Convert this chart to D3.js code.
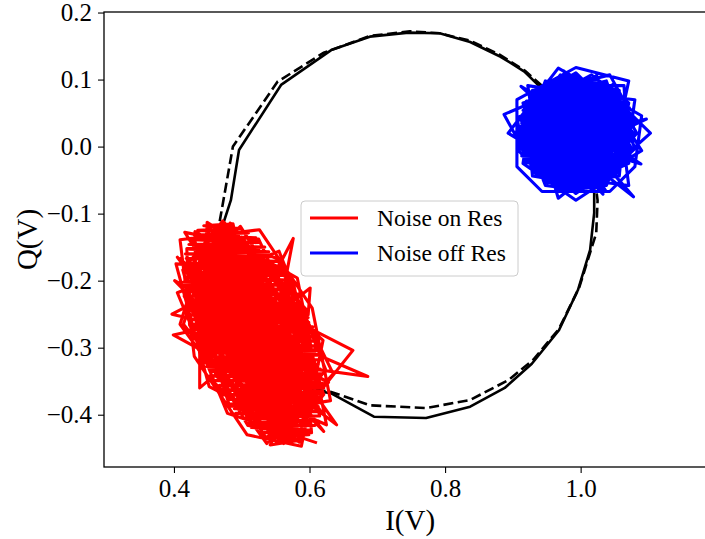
<!DOCTYPE html>
<html><head><meta charset="utf-8">
<script src="https://cdn.jsdelivr.net/npm/d3@7"></script>
<style>html,body{margin:0;padding:0;background:#fff;}svg{display:block;}</style>
</head><body>
<svg id="chart" width="705" height="539"></svg>
<script>
// ---- data ----
const xTicks = [0.4, 0.6, 0.8, 1.0];
const yTicks = [-0.4, -0.3, -0.2, -0.1, 0.0, 0.1, 0.2];
const legendLabels = ["Noise on Res", "Noise off Res"];

const solidI = [0.975,0.937,0.917,0.882,0.837,0.792,0.746,0.689,0.632,0.558,0.496,0.484,0.473,0.466,0.470,0.490,0.530,0.580,0.632,0.695,0.772,0.837,0.888,0.928,0.968,0.996,1.014,1.020,1.020];
const solidQ = [0.060,0.092,0.112,0.134,0.156,0.169,0.170,0.164,0.144,0.092,-0.005,-0.080,-0.114,-0.170,-0.230,-0.290,-0.335,-0.360,-0.368,-0.403,-0.405,-0.388,-0.360,-0.324,-0.274,-0.214,-0.154,-0.099,-0.040];
const dashI = [0.975,0.918,0.881,0.837,0.792,0.748,0.689,0.621,0.553,0.487,0.473,0.466,0.462,0.470,0.490,0.540,0.590,0.632,0.689,0.772,0.837,0.894,0.930,0.968,0.998,1.023,1.025,1.020];
const dashQ = [0.062,0.113,0.137,0.158,0.169,0.172,0.165,0.140,0.097,0.000,-0.080,-0.120,-0.180,-0.240,-0.300,-0.340,-0.360,-0.366,-0.386,-0.390,-0.378,-0.348,-0.318,-0.272,-0.210,-0.129,-0.080,-0.040];

// noise trace, resonant tone (red)
const redI = [0.549,0.589,0.536,0.599,0.527,0.602,0.514,0.608,0.511,0.613,
0.501,0.610,0.491,0.615,0.489,0.613,0.482,0.619,0.480,0.617,
0.471,0.617,0.468,0.621,0.467,0.619,0.459,0.616,0.453,0.619,
0.454,0.616,0.448,0.613,0.444,0.615,0.445,0.616,0.440,0.611,
0.434,0.611,0.438,0.610,0.431,0.604,0.428,0.604,0.429,0.605,
0.426,0.599,0.422,0.598,0.425,0.596,0.418,0.591,0.423,0.589,
0.418,0.583,0.416,0.584,0.418,0.578,0.416,0.571,0.414,0.571,
0.418,0.569,0.416,0.560,0.415,0.557,0.420,0.553,0.418,0.544,
0.417,0.540,0.423,0.534,0.422,0.525,0.427,0.521,0.430,0.510,
0.435,0.500,0.444,0.487,
0.519,0.501,0.534,0.512,0.573,0.458,0.561,0.491,0.504,0.548,0.438,0.558,0.454,0.521,0.595,0.493,0.481,0.494,0.565,0.553,
0.397,0.443,0.526,0.509,0.539,0.470,0.540,0.559,0.470,0.570,0.466,0.439,0.509,0.589,0.536,0.509,0.462,
0.416,0.525,0.442,0.566,0.487,0.513,0.604,0.495,0.524,0.534,0.460,0.536,0.555,
0.576,0.484,0.519,0.409,0.565,0.500,0.523,0.497,0.561,0.485,0.529,0.464,0.536,
0.483,0.557,0.540,0.490,0.591,0.463,0.534,0.531,0.500,0.574,0.439,0.522,0.473,0.589,0.534,0.480,
0.438,0.438,0.553,0.490,0.553,0.476,0.617,0.512,0.510,0.522,0.479,0.558,0.565,0.460,0.497,0.512,
0.601,0.598,0.512,0.564,0.431,0.571,0.534,0.451,0.529,0.546,0.497,0.498,0.539,0.521,0.477,0.585,
0.686,0.512,0.435,0.538,0.493,0.539,0.572,0.457,0.464,0.510,0.541,0.528,
0.399,0.497,0.552,0.495,0.533,0.477,0.609,0.516,0.416,0.558,0.527,0.466,0.498,0.550,
0.542,0.586,0.546,0.479,0.576,0.464,0.528,0.502,0.515,0.526,0.428,0.552,0.504,0.589,
0.664,0.525,0.482,0.508,0.504,0.584,0.484,0.555,0.481,0.481,0.548,0.552,0.501,0.460,0.550,0.581,0.428,0.521,0.503,0.535,0.516,
0.640,0.500,0.574,0.463,0.503,0.602,0.485,0.522,0.539,0.532,0.437,0.532,0.499,0.430,0.556,0.570,
0.567,0.570,0.520,0.473,0.500,0.507,0.514,0.495,0.544,0.514,0.540,0.542,0.512,0.472,0.467,0.552,
0.401,0.560,0.465,0.541,0.479,0.585,0.522,0.551,0.515,0.557,0.451,0.523,0.459,0.563,0.517,0.479,0.479,0.517,0.540,0.484,0.570,0.543,0.520,0.522,0.510,0.531,0.595,0.452,0.521,0.494,0.507,
0.628,0.551,0.543,0.552,0.472,0.451,0.545,0.553,0.497,0.504,0.509,0.460,0.555,0.572,0.507,0.495,0.464,0.527,0.555,0.497,0.579,
0.405,0.471,0.531,0.425,0.592,0.525,0.518,0.523,0.484,0.517,0.581,0.423,0.517,0.540,0.486,0.510,0.517,0.542,0.569,0.439,0.564,
0.436,0.495,0.503,0.621,0.492,0.536,0.508,0.496,0.560,0.536,0.457,0.581,0.510,0.448,0.562,0.520,0.475,0.527,0.482,0.528,0.535,
0.578,0.611,0.523,0.429,0.438,0.532,0.610,0.576,0.477,0.435,
0.482,0.586,0.609,0.545,0.431,0.433,0.510,0.615,0.580,0.498,
0.424,0.470,0.557,0.635,0.552,0.456,0.415,0.489,0.585,0.600,
0.564,0.502,0.419,0.423,0.509,0.603,0.592,0.525,0.448,0.454,
0.536,0.595,0.596,0.472,0.413,0.458,0.562,0.621,0.570,0.463,
0.425,0.464,0.571,0.599,0.548,0.449,0.442,0.486,0.594,0.601,
0.524,0.439,0.446,0.534,0.605,0.588,0.500,0.434,0.414,0.511,
0.564,0.590,0.572,0.523,0.470,0.444,0.462,0.511,0.577,0.589,
0.558,0.504,0.457,0.445,0.476,0.530,0.586,0.583,0.541,0.486,
0.448,0.451,0.493,0.548,0.631,0.604,0.526,0.409,0.430,0.508,
0.588,0.620,0.506,0.403,0.452,0.553,0.576,0.552,0.476,0.456,
0.496,0.568,0.573,0.522,0.466,0.461,0.512,0.558,0.578,0.538,
0.481,0.455,0.482,0.544,0.579,0.564,0.490,0.458,0.470,0.528,
0.625,0.582,0.453,0.409,0.537,0.624,0.555,0.405,0.479,0.611];

const redQ = [-0.440,-0.437,-0.433,-0.430,-0.426,-0.423,-0.419,-0.416,-0.412,-0.409,
-0.405,-0.402,-0.398,-0.395,-0.391,-0.388,-0.384,-0.381,-0.377,-0.374,
-0.370,-0.367,-0.363,-0.360,-0.356,-0.353,-0.349,-0.346,-0.342,-0.339,
-0.335,-0.332,-0.328,-0.325,-0.321,-0.318,-0.314,-0.311,-0.307,-0.304,
-0.300,-0.297,-0.293,-0.290,-0.286,-0.283,-0.279,-0.276,-0.272,-0.269,
-0.265,-0.262,-0.258,-0.255,-0.251,-0.248,-0.244,-0.241,-0.237,-0.234,
-0.230,-0.227,-0.223,-0.220,-0.216,-0.213,-0.209,-0.206,-0.202,-0.199,
-0.195,-0.192,-0.188,-0.185,-0.181,-0.178,-0.174,-0.171,-0.167,-0.164,
-0.160,-0.157,-0.153,-0.150,-0.146,-0.143,-0.139,-0.136,-0.132,-0.129,
-0.125,-0.122,-0.118,-0.115,
-0.262,-0.318,-0.231,-0.295,-0.347,-0.204,-0.276,-0.339,-0.251,-0.301,-0.188,-0.365,-0.283,-0.244,-0.327,-0.269,-0.158,-0.309,-0.391,-0.287,
-0.250,-0.226,-0.354,-0.271,-0.213,-0.336,-0.297,-0.419,-0.256,-0.312,-0.179,-0.285,-0.241,-0.373,-0.266,-0.322,-0.137,
-0.128,-0.302,-0.233,-0.349,-0.279,-0.198,-0.331,-0.260,-0.405,-0.291,-0.219,-0.343,-0.249,
-0.137,-0.315,-0.274,-0.167,-0.361,-0.288,-0.237,-0.326,-0.282,-0.208,-0.382,-0.264,-0.305,
-0.114,-0.229,-0.337,-0.272,-0.436,-0.293,-0.247,-0.353,-0.191,-0.310,-0.258,-0.286,-0.221,-0.368,-0.277,-0.324,
-0.360,-0.149,-0.299,-0.240,-0.345,-0.268,-0.395,-0.253,-0.316,-0.210,-0.290,-0.333,-0.263,-0.184,-0.357,-0.281,
-0.211,-0.251,-0.234,-0.320,-0.270,-0.412,-0.296,-0.217,-0.340,-0.255,-0.307,-0.173,-0.284,-0.375,-0.245,-0.329,
-0.343,-0.267,-0.201,-0.313,-0.289,-0.227,-0.351,-0.273,-0.129,-0.303,-0.386,-0.252,
-0.281,-0.335,-0.278,-0.215,-0.321,-0.259,-0.364,-0.292,-0.196,-0.344,-0.265,-0.308,-0.238,-0.428,
-0.445,-0.438,-0.280,-0.223,-0.330,-0.261,-0.298,-0.163,-0.358,-0.275,-0.243,-0.317,-0.286,-0.399,
-0.304,-0.232,-0.341,-0.269,-0.206,-0.311,-0.250,-0.370,-0.287,-0.186,-0.325,-0.254,-0.306,-0.228,-0.349,-0.279,-0.142,-0.294,-0.383,-0.262,-0.319,
-0.415,-0.214,-0.338,-0.271,-0.247,-0.416,-0.300,-0.193,-0.356,-0.283,-0.236,-0.328,-0.266,-0.176,-0.314,-0.290,
-0.187,-0.378,-0.242,-0.304,-0.257,-0.346,-0.218,-0.276,-0.332,-0.155,-0.292,-0.403,-0.261,-0.225,-0.323,-0.284,
-0.200,-0.363,-0.248,-0.302,-0.199,-0.342,-0.273,-0.235,-0.310,-0.389,-0.265,-0.282,-0.211,-0.334,-0.256,-0.297,-0.168,-0.352,-0.277,-0.239,-0.318,-0.433,-0.289,-0.222,-0.366,-0.268,-0.305,-0.246,-0.336,-0.185,-0.280,
-0.352,-0.312,-0.258,-0.396,-0.230,-0.293,-0.347,-0.270,-0.205,-0.327,-0.263,-0.146,-0.299,-0.371,-0.244,-0.315,-0.286,-0.216,-0.340,-0.274,-0.408,
-0.165,-0.252,-0.308,-0.190,-0.355,-0.279,-0.233,-0.321,-0.267,-0.380,-0.295,-0.209,-0.338,-0.260,-0.174,-0.311,-0.285,-0.241,-0.359,-0.272,-0.326,
-0.322,-0.224,-0.301,-0.425,-0.255,-0.288,-0.195,-0.344,-0.264,-0.316,-0.237,-0.376,-0.278,-0.160,-0.306,-0.250,-0.334,-0.291,-0.212,-0.361,-0.269,
-0.424,-0.288,-0.166,-0.164,-0.310,-0.403,-0.360,-0.203,-0.127,-0.234,
-0.387,-0.397,-0.325,-0.189,-0.127,-0.267,-0.402,-0.402,-0.251,-0.119,
-0.194,-0.336,-0.427,-0.339,-0.167,-0.130,-0.223,-0.365,-0.441,-0.351,
-0.218,-0.151,-0.152,-0.266,-0.416,-0.427,-0.286,-0.138,-0.157,-0.303,
-0.435,-0.377,-0.244,-0.111,-0.184,-0.351,-0.443,-0.370,-0.210,-0.146,
-0.229,-0.344,-0.408,-0.320,-0.178,-0.113,-0.268,-0.376,-0.412,-0.287,
-0.152,-0.177,-0.306,-0.419,-0.390,-0.248,-0.135,-0.203,-0.265,-0.388,
-0.391,-0.342,-0.254,-0.180,-0.163,-0.212,-0.300,-0.374,-0.382,-0.314,
-0.225,-0.166,-0.172,-0.240,-0.329,-0.388,-0.365,-0.284,-0.200,-0.161,
-0.189,-0.270,-0.354,-0.393,-0.379,-0.241,-0.124,-0.139,-0.313,-0.430,
-0.447,-0.289,-0.182,-0.175,-0.358,-0.410,-0.352,-0.233,-0.179,-0.245,
-0.343,-0.367,-0.283,-0.194,-0.187,-0.271,-0.360,-0.375,-0.309,-0.211,
-0.144,-0.221,-0.321,-0.377,-0.333,-0.257,-0.177,-0.202,-0.297,-0.372,
-0.415,-0.196,-0.122,-0.265,-0.443,-0.333,-0.156,-0.218,-0.398,-0.442];

// noise trace, off-resonance tone (blue)
const blueI = [0.975,1.020,0.959,1.037,0.949,1.043,0.937,1.048,0.928,1.058,
0.928,1.067,0.921,1.063,0.913,1.070,0.918,1.075,0.912,1.071,
0.908,1.075,0.913,1.079,0.910,1.072,0.908,1.075,0.913,1.076,
0.912,1.069,0.916,1.070,0.922,1.067,0.920,1.060,0.927,1.059,
0.935,1.050,0.938,1.043,0.949,1.033,0.961,1.017,
1.024,0.954,1.036,0.941,1.050,0.937,1.051,0.929,1.061,0.920,
1.062,0.923,1.072,0.915,1.067,0.915,1.074,0.909,1.073,0.915,
1.078,0.910,1.073,0.906,1.076,0.912,1.078,0.910,1.070,0.914,
1.073,0.915,1.067,0.919,1.068,0.925,1.060,0.924,1.056,0.934,
1.051,0.943,1.041,0.950,1.028,0.965,1.011,
0.987,1.012,0.969,1.031,0.995,0.958,1.004,0.981,1.023,0.976,
1.047,0.992,0.963,1.008,0.984,0.939,1.016,0.998,0.972,1.036,
0.989,1.001,0.951,1.027,0.979,1.062,0.993,0.967,1.011,0.985,
0.944,1.019,0.996,0.974,1.041,0.982,1.006,0.961,0.999,1.028,
0.977,0.915,1.014,0.990,0.956,1.033,0.988,1.003,0.970,1.052,
0.983,0.948,1.021,0.994,0.965,1.009,0.978,1.038,0.991,0.959,
1.017,0.986,1.074,0.973,0.997,0.942,1.025,0.980,1.005,0.962,
1.044,0.988,0.953,1.013,0.976,0.995,1.030,0.968,0.927,1.002,
0.984,1.020,0.957,0.993,1.057,0.975,1.010,0.946,0.999,1.035,
0.981,0.966,1.015,0.990,0.937,1.026,0.972,1.007,0.985,1.049,
0.960,0.994,1.018,0.979,0.952,1.039,0.987,1.001,0.969,1.083,
0.982,0.943,1.022,0.996,0.964,1.011,0.977,1.032,0.989,0.955,
1.006,0.971,1.045,0.992,0.934,1.016,0.983,0.998,0.961,1.028,
0.986,1.060,0.974,1.003,0.949,1.019,0.991,0.967,1.037,0.980,
0.906,1.012,0.995,0.958,1.024,0.978,1.008,0.945,0.988,1.043,
0.970,0.999,1.015,0.963,1.031,0.984,0.940,1.004,0.993,1.054,
0.976,0.957,1.020,0.987,0.968,1.097,0.982,1.009,0.950,0.997,
1.034,0.973,0.990,1.017,0.931,1.002,0.985,1.040,0.962,0.994,
1.026,0.979,0.954,1.013,0.988,1.066,0.971,0.998,0.944,1.022,
0.983,1.007,0.966,1.048,0.991,0.920,1.018,0.977,1.001,0.959,
1.036,0.986,0.969,1.010,0.995,0.938,1.029,0.980,1.058,0.974,
0.992,0.952,1.014,0.984,1.003,0.965,1.042,0.989,0.947,1.021,
0.978,1.000,0.960,1.033,0.987,1.071,0.972,0.996,0.935,1.011,
0.982,1.025,0.963,0.994,1.050,0.975,1.006,0.956,0.990,1.038,
0.968,1.016,0.985,0.942,1.023,0.997,0.973,1.089,0.981,1.004,
0.951,0.993,1.030,0.979,0.961,1.012,0.988,1.046,0.970,0.999,
0.926,1.019,0.984,1.002,0.958,1.035,0.976,0.995,1.063,0.967,
1.008,0.944,0.990,1.027,0.980,0.954,1.015,0.986,1.041,0.973,
0.998,0.912,1.021,0.983,1.005,0.962,1.032,0.977,0.992,1.055,
0.969,1.010,0.948,0.987,1.024,0.965,1.078,0.981,0.996,0.939,
1.078,1.014,0.915,0.940,1.015,1.059,1.057,0.977,0.908,0.972,
1.057,1.065,0.993,0.936,0.934,0.993,1.062,1.067,1.043,0.956,
0.906,0.951,1.031,1.103,1.033,0.929,0.916,0.959,1.038,1.080,
1.011,0.906,0.919,1.012,1.071,1.046,0.970,0.934,0.916,0.970,
1.046,1.090,1.052,0.993,0.919,0.929,0.993,1.052,1.075,0.993,
0.948,0.918,0.948,1.016,1.075,1.027,0.951,0.927,0.974,1.036,
1.068,1.064,0.974,0.927,0.936,0.993,1.050,1.071,1.016,0.945,
0.903,0.945,1.011,1.067,1.059,1.038,0.959,0.887,0.924,0.975,
1.033,1.080,1.058,0.993,0.933,0.911,0.956,1.014,1.041,1.083,
1.050,0.972,0.928,0.915,0.993,1.053,1.070,1.012,0.953,0.925,
0.933,1.027,1.065,1.041,0.993,0.924,0.921,0.971,1.058,1.062,
1.031,0.940,0.911,0.953,0.993,1.071,1.061,1.015,0.975,0.913,
0.928,1.009,1.070,1.080,0.993,0.922,0.935,0.963,1.023,1.051,
1.036,0.963,0.921,0.951,0.967,1.035,1.053,1.053,0.971,0.941,
0.941,0.993,1.045,1.045,1.009,0.951,0.933,0.958,1.006,1.036,
1.041,1.006,0.968,0.945,0.950,0.980,1.018,1.051,1.071,0.993,
0.906,0.906,0.943,1.043,1.080,1.090,0.967,0.893,0.993,1.073];

const blueQ = [-0.063,-0.060,-0.056,-0.053,-0.049,-0.046,-0.042,-0.039,-0.035,-0.032,
-0.028,-0.025,-0.021,-0.018,-0.014,-0.011,-0.007,-0.004,0.000,0.004,
0.007,0.011,0.014,0.018,0.021,0.025,0.028,0.032,0.035,0.039,
0.042,0.046,0.049,0.053,0.056,0.060,0.063,0.067,0.070,0.074,
0.077,0.081,0.084,0.088,0.091,0.095,0.098,0.102,
0.100,0.096,0.093,0.089,0.086,0.082,0.079,0.075,0.072,0.068,
0.065,0.061,0.058,0.054,0.051,0.047,0.044,0.040,0.037,0.033,
0.030,0.026,0.023,0.019,0.016,0.012,0.009,0.005,0.002,-0.002,
-0.005,-0.009,-0.012,-0.016,-0.019,-0.023,-0.026,-0.030,-0.033,-0.037,
-0.040,-0.044,-0.047,-0.051,-0.054,-0.058,-0.061,
0.031,0.004,0.047,0.016,-0.012,0.038,0.022,0.059,-0.003,0.027,
0.011,0.043,-0.021,0.019,0.066,0.008,0.035,-0.009,0.025,0.052,
0.014,-0.031,0.040,0.021,0.002,0.073,0.029,0.010,0.048,-0.016,
0.024,0.057,0.006,0.033,-0.040,0.018,0.045,0.012,0.084,0.001,
0.036,0.020,-0.006,0.054,0.028,0.015,-0.024,0.042,0.009,0.063,
0.023,-0.002,0.037,0.017,0.050,-0.049,0.030,0.013,0.069,0.005,
0.041,0.026,-0.014,0.034,0.098,0.019,-0.007,0.046,0.011,0.032,
-0.027,0.055,0.022,0.003,0.039,0.016,0.078,-0.010,0.027,0.049,
0.008,0.035,-0.035,0.021,0.061,0.013,0.044,-0.001,0.030,0.018,
0.071,-0.019,0.038,0.024,0.006,0.051,0.015,-0.058,0.033,0.026,
0.043,0.010,0.064,-0.005,0.029,0.020,0.088,0.002,0.036,-0.023,
0.047,0.017,0.025,-0.011,0.056,0.031,0.007,0.040,-0.043,0.022,
0.012,0.067,0.028,-0.004,0.045,0.019,0.034,-0.029,0.053,0.009,
0.076,0.023,-0.015,0.037,0.014,0.060,0.001,0.042,-0.066,0.027,
0.018,0.050,-0.008,0.032,0.107,0.011,0.039,-0.020,0.025,0.058,
0.005,0.044,0.016,-0.037,0.030,0.070,0.021,-0.003,0.048,0.013,
-0.052,0.035,0.024,0.062,0.008,0.041,-0.013,0.029,0.082,0.017,
0.036,-0.025,0.053,0.010,0.027,0.046,-0.001,0.065,0.020,0.003,
0.039,-0.045,0.031,0.015,0.074,0.022,-0.009,0.043,0.012,0.057,
-0.018,0.034,0.026,0.093,0.006,0.040,-0.030,0.019,0.049,0.014,
0.068,-0.006,0.033,0.023,-0.061,0.045,0.011,0.055,0.028,-0.017,
0.037,0.004,0.080,0.021,-0.033,0.047,0.016,0.030,0.062,-0.002,
0.025,0.052,0.009,-0.071,0.038,0.018,0.072,0.000,0.044,0.013,
-0.022,0.059,0.027,0.007,0.035,0.113,0.019,-0.010,0.042,0.024,
0.003,0.050,-0.039,0.031,0.016,0.066,0.010,-0.026,0.046,0.022,
0.085,0.005,0.036,-0.054,0.028,0.017,0.056,-0.008,0.039,0.012,
0.032,0.069,-0.019,0.024,0.008,0.048,-0.047,0.035,0.020,0.077,
0.014,-0.004,0.041,0.026,0.061,-0.034,0.029,0.011,0.053,0.002,
0.037,0.090,-0.013,0.022,0.045,0.006,-0.063,0.033,0.018,0.058,
0.025,-0.028,0.043,0.009,0.070,0.015,-0.075,0.038,0.021,0.047,
0.020,0.097,0.065,-0.033,-0.062,0.002,0.084,0.078,0.020,-0.057,
-0.044,0.039,0.110,0.077,-0.014,-0.070,-0.020,0.063,0.107,0.085,
-0.003,-0.054,-0.045,0.020,0.089,0.084,0.041,-0.039,-0.058,0.043,
0.086,0.043,-0.023,-0.052,-0.025,0.073,0.107,0.054,-0.001,-0.067,
-0.033,-0.006,0.054,0.100,0.063,-0.044,-0.055,-0.014,0.042,0.088,
0.098,0.020,-0.058,-0.067,-0.002,0.079,0.094,0.002,-0.052,-0.054,
0.020,0.091,0.092,0.038,-0.037,-0.065,-0.037,0.065,0.107,0.068,
0.020,-0.028,-0.046,-0.023,0.038,0.098,0.079,0.048,-0.020,-0.046,
-0.049,-0.003,0.058,0.105,0.080,-0.002,-0.045,-0.057,-0.028,0.020,
0.077,0.097,0.058,-0.025,-0.080,-0.040,0.041,0.092,0.089,0.020,
-0.040,-0.039,0.001,0.068,0.095,0.060,0.001,-0.062,-0.018,0.060,
0.085,0.073,0.042,-0.049,-0.048,-0.058,0.020,0.102,0.086,0.020,
-0.018,-0.038,-0.001,0.070,0.080,0.091,0.004,-0.032,-0.032,0.036,
0.094,0.072,0.039,-0.022,-0.077,-0.022,0.020,0.080,0.102,0.050,
-0.010,-0.060,-0.010,0.050,0.078,0.062,0.020,-0.015,-0.028,-0.005,
0.033,0.068,0.063,0.033,-0.005,-0.028,-0.023,0.004,0.098,0.118,
0.070,-0.030,-0.067,-0.067,-0.030,0.046,0.117,0.020,-0.040,0.020];

// ---- drawing ----
const svg = d3.select("#chart");
const FONT = "'Liberation Serif','Times New Roman',serif";
const plot = {left: 104, right: 716.2, top: 12, bottom: 467};

const x = d3.scaleLinear().domain([0.2968, 1.2]).range([plot.left, plot.right]);
const y = d3.scaleLinear().domain([-0.478, 0.2008]).range([plot.bottom, plot.top]);

const line = d3.line().x(d => x(d[0])).y(d => y(d[1]));

svg.append("path").datum(d3.zip(solidI, solidQ)).attr("d", line)
  .attr("fill", "none").attr("stroke", "#000").attr("stroke-width", 2.6).attr("stroke-linejoin", "round");
svg.append("path").datum(d3.zip(dashI, dashQ)).attr("d", line)
  .attr("fill", "none").attr("stroke", "#000").attr("stroke-width", 2.6).attr("stroke-dasharray", "10,4.5");

svg.append("path").datum(d3.zip(redI, redQ)).attr("d", line)
  .attr("fill", "none").attr("stroke", "#ff0000").attr("stroke-width", 3.1).attr("stroke-linejoin", "round");
svg.append("path").datum(d3.zip(blueI, blueQ)).attr("d", line)
  .attr("fill", "none").attr("stroke", "#0000ff").attr("stroke-width", 3.1).attr("stroke-linejoin", "round");

// frame
svg.append("rect").attr("x", plot.left).attr("y", plot.top)
  .attr("width", plot.right - plot.left).attr("height", plot.bottom - plot.top)
  .attr("fill", "none").attr("stroke", "#000").attr("stroke-width", 1.3);

const fmt = d3.format(".1f");
const gx = svg.append("g").attr("transform", `translate(0,${plot.bottom})`)
  .call(d3.axisBottom(x).tickValues(xTicks).tickSize(6).tickPadding(5).tickFormat(fmt));
const gy = svg.append("g").attr("transform", `translate(${plot.left},0)`)
  .call(d3.axisLeft(y).tickValues(yTicks).tickSize(6).tickPadding(6).tickFormat(fmt));
[gx, gy].forEach(g => {
  g.select(".domain").remove();
  g.selectAll(".tick line").attr("stroke", "#000").attr("stroke-width", 1.1);
  g.selectAll(".tick text").attr("fill", "#000").style("font-family", FONT).style("font-size", "25px");
});
gx.selectAll(".tick text").attr("dy", "0.75em");

svg.append("text").attr("x", (plot.left + plot.right) / 2).attr("y", 530)
  .attr("text-anchor", "middle").style("font-family", FONT).style("font-size", "29px").text("I(V)");
svg.append("text").attr("transform", `translate(37,${(plot.top + plot.bottom) / 2}) rotate(-90)`)
  .attr("text-anchor", "middle").style("font-family", FONT).style("font-size", "29px").text("Q(V)");

// legend
const lg = svg.append("g");
lg.append("rect").attr("x", 301).attr("y", 201).attr("width", 217).attr("height", 75)
  .attr("rx", 4).attr("fill", "#fff").attr("fill-opacity", 0.8).attr("stroke", "#cccccc").attr("stroke-width", 1);
const colors = ["#ff0000", "#0000ff"];
legendLabels.forEach((lab, i) => {
  const yy = 218 + i * 35;
  lg.append("line").attr("x1", 310).attr("x2", 358).attr("y1", yy).attr("y2", yy)
    .attr("stroke", colors[i]).attr("stroke-width", 3);
  lg.append("text").attr("x", 377).attr("y", yy + 8).style("font-family", FONT).style("font-size", "23.5px")
    .attr("fill", "#000").text(lab);
});
</script>
</body></html>
